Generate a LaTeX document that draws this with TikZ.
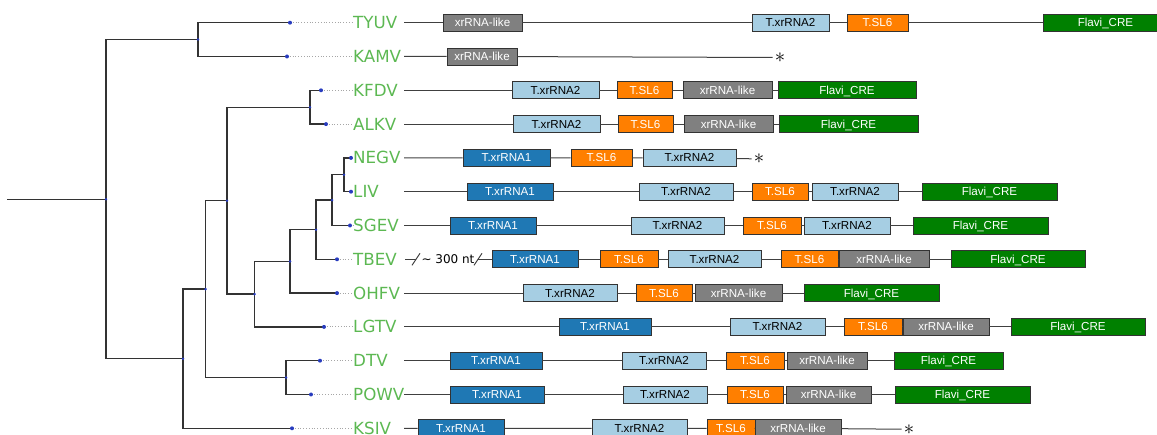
\documentclass[tikz,border=0pt]{standalone}
\usepackage{fontspec}
\setmainfont{Liberation Sans}
\newfontfamily\taxfont{DejaVu Sans}
\definecolor{taxGreen}{RGB}{92,184,82}
\definecolor{xraBlue}{RGB}{31,120,180}
\definecolor{xrbBlue}{RGB}{166,206,227}
\definecolor{slOrange}{RGB}{255,127,0}
\definecolor{likeGray}{RGB}{128,128,128}
\definecolor{creGreen}{RGB}{0,128,0}
\definecolor{dotBlue}{RGB}{40,60,190}
\begin{document}
\begin{tikzpicture}[x=1pt,y=-1pt]
\tikzstyle{every node}=[inner sep=0pt]
\tikzstyle{branch}=[line width=1.3pt, color=black!80]
\tikzstyle{leader}=[line width=0.8pt, gray!70, dotted]
\tikzstyle{track}=[line width=1pt, color=black!75]
\tikzstyle{taxon}=[anchor=west, text=taxGreen, font=\taxfont\fontsize{16.7}{18}\selectfont]
\tikzstyle{gene}=[draw=black!80, line width=0.8pt, minimum height=17pt, text height=8.2pt, text depth=0pt, font=\fontsize{11.6}{13}\selectfont]
\tikzstyle{xra}=[gene, fill=xraBlue, text=white, node contents={T.xrRNA1}]
\tikzstyle{xrb}=[gene, fill=xrbBlue, text=black, node contents={T.xrRNA2}]
\tikzstyle{sl}=[gene, fill=slOrange, text=white, node contents={T.SL6}]
\tikzstyle{like}=[gene, fill=likeGray, text=white, node contents={xrRNA-like}]
\tikzstyle{cre}=[gene, fill=creGreen, text=white, node contents={Flavi\_CRE}]
\tikzstyle{endmark}=[inner xsep=2pt, text=black, font=\huge]
\useasboundingbox (0,0) rectangle (1157,435);
% tips of the tree
\coordinate (t-tyuv) at (290,22.7);
\coordinate (t-kamv) at (287,56.5);
\coordinate (t-kfdv) at (321,90.3);
\coordinate (t-alkv) at (326,124.1);
\coordinate (t-negv) at (351,157.9);
\coordinate (t-liv)  at (351,191.7);
\coordinate (t-sgev) at (350,225.5);
\coordinate (t-tbev) at (337,259.3);
\coordinate (t-ohfv) at (337,293.1);
\coordinate (t-lgtv) at (324,326.9);
\coordinate (t-dtv)  at (320,360.7);
\coordinate (t-powv) at (311,394.5);
\coordinate (t-ksiv) at (292,428.3);
% inner nodes
\coordinate (stem) at (7,199.2);
\coordinate (root) at (106,199.2);
\coordinate (n-tk) at (198,39.6);
\coordinate (n-ks) at (183,358.7);
\coordinate (n-md) at (205.5,289.15);
\coordinate (n-dp) at (286,377.6);
\coordinate (n-ti) at (227,200.7);
\coordinate (n-ka) at (310,107.2);
\coordinate (n-lg) at (254.5,294.15);
\coordinate (n-oh) at (290,261.4);
\coordinate (n-tb) at (316,229.7);
\coordinate (n-sg) at (332,200.15);
\coordinate (n-nl) at (344,174.8);
\draw [branch] (stem) -- (root);
\foreach \p/\c in {root/n-tk, root/n-ks, n-tk/t-tyuv, n-tk/t-kamv, n-ks/n-md, n-ks/t-ksiv,
  n-md/n-ti, n-md/n-dp, n-dp/t-dtv, n-dp/t-powv, n-ti/n-ka, n-ti/n-lg, n-ka/t-kfdv, n-ka/t-alkv,
  n-lg/n-oh, n-lg/t-lgtv, n-oh/n-tb, n-oh/t-ohfv, n-tb/n-sg, n-tb/t-tbev, n-sg/n-nl, n-sg/t-sgev,
  n-nl/t-negv, n-nl/t-liv}
  \draw [branch] (\p) |- (\c);
\foreach \c in {root, n-tk, n-ks, n-md, n-dp, n-ti, n-ka, n-lg, n-oh, n-tb, n-sg, n-nl}
  \fill [dotBlue] (\c) circle (1.4);
% virus names
\foreach \v/\t/\y in {tyuv/TYUV/22.7, kamv/KAMV/56.5, kfdv/KFDV/90.3, alkv/ALKV/124.1,
  negv/NEGV/157.9, liv/LIV/191.7, sgev/SGEV/225.5, tbev/TBEV/259.3, ohfv/OHFV/293.1,
  lgtv/LGTV/326.9, dtv/DTV/360.7, powv/POWV/394.5, ksiv/KSIV/428.3}
{
  \node [taxon] (l-\v) at (353,\y) {\t};
  \draw [leader] (t-\v) -- (l-\v);
  \fill [dotBlue] (t-\v) circle (2);
}
% TYUV
\coordinate (s-tyuv) at (404,22.7);
\foreach \n/\a/\b/\k in {1/443/522/like, 2/752/829/xrb, 3/847/908/sl, 4/1043/1168/cre}
  \node (tyuv\n) at ({(\a+\b)/2},22.7) [\k, minimum width={(\b-\a)*1pt}];
\draw [track] (s-tyuv) -- (tyuv1) -- (tyuv2) -- (tyuv3) -- (tyuv4);
% KAMV
\coordinate (s-kamv) at (404,56.5);
\node (kamv1) at (482,56.5) [like, minimum width=70pt];
\node [endmark] (a-kamv) at (780,57.5) {$\ast$};
\draw [track] (s-kamv) -- (kamv1) -- (a-kamv);
% KFDV
\coordinate (s-kfdv) at (404,90.3);
\foreach \n/\a/\b/\k in {1/512/599/xrb, 2/617/672/sl, 3/683/772/like, 4/778/916/cre}
  \node (kfdv\n) at ({(\a+\b)/2},90.3) [\k, minimum width={(\b-\a)*1pt}];
\draw [track] (s-kfdv) -- (kfdv1) -- (kfdv2) -- (kfdv3) -- (kfdv4);
% ALKV
\coordinate (s-alkv) at (404,124.1);
\foreach \n/\a/\b/\k in {1/513/600/xrb, 2/618/673/sl, 3/684/773/like, 4/779/918/cre}
  \node (alkv\n) at ({(\a+\b)/2},124.1) [\k, minimum width={(\b-\a)*1pt}];
\draw [track] (s-alkv) -- (alkv1) -- (alkv2) -- (alkv3) -- (alkv4);
% NEGV
\coordinate (s-negv) at (404,157.9);
\foreach \n/\a/\b/\k in {1/463/550/xra, 2/571/632/sl, 3/643/736/xrb}
  \node (negv\n) at ({(\a+\b)/2},157.9) [\k, minimum width={(\b-\a)*1pt}];
\node [endmark] (a-negv) at (759,158.9) {$\ast$};
\draw [track] (s-negv) -- (negv1) -- (negv2) -- (negv3) -- (a-negv);
% LIV
\coordinate (s-liv) at (404,191.7);
\foreach \n/\a/\b/\k in {1/467/553/xra, 2/639/733/xrb, 3/752/808/sl, 4/812/898/xrb, 5/922/1057/cre}
  \node (liv\n) at ({(\a+\b)/2},191.7) [\k, minimum width={(\b-\a)*1pt}];
\draw [track] (s-liv) -- (liv1) -- (liv2) -- (liv3) -- (liv4) -- (liv5);
% SGEV
\coordinate (s-sgev) at (404,225.5);
\foreach \n/\a/\b/\k in {1/450/536/xra, 2/631/724/xrb, 3/743/801/sl, 4/804/890/xrb, 5/913/1048/cre}
  \node (sgev\n) at ({(\a+\b)/2},225.5) [\k, minimum width={(\b-\a)*1pt}];
\draw [track] (s-sgev) -- (sgev1) -- (sgev2) -- (sgev3) -- (sgev4) -- (sgev5);
% TBEV, with the cut of about 300 nt
\coordinate (s-tbev) at (405,259.3);
\coordinate (cut-a) at (416,259.3);
\coordinate (cut-b) at (478,259.3);
\node [font=\taxfont\fontsize{12}{14}\selectfont] (nt) at (448,258.8) {\textasciitilde\ 300 nt};
\foreach \n/\a/\b/\k in {1/492/578/xra, 2/600/658/sl, 3/668/761/xrb, 4/781/838/sl, 5/839/929/like, 6/951/1085/cre}
  \node (tbev\n) at ({(\a+\b)/2},259.3) [\k, minimum width={(\b-\a)*1pt}];
\draw [track] (s-tbev) -- (cut-a);
\draw [track] ([shift={(-4,6)}]cut-a) -- ([shift={(4,-6)}]cut-a);
\draw [track] ([shift={(-4,6)}]cut-b) -- ([shift={(4,-6)}]cut-b);
\draw [track] (cut-b) -- (tbev1) -- (tbev2) -- (tbev3) -- (tbev4) -- (tbev5) -- (tbev6);
% OHFV
\coordinate (s-ohfv) at (404,293.1);
\foreach \n/\a/\b/\k in {1/523/617/xrb, 2/636/692/sl, 3/695/782/like, 4/804/939/cre}
  \node (ohfv\n) at ({(\a+\b)/2},293.1) [\k, minimum width={(\b-\a)*1pt}];
\draw [track] (s-ohfv) -- (ohfv1) -- (ohfv2) -- (ohfv3) -- (ohfv4);
% LGTV
\coordinate (s-lgtv) at (404,326.9);
\foreach \n/\a/\b/\k in {1/559/651/xra, 2/730/825/xrb, 3/844/902/sl, 4/903/989/like, 5/1011/1145/cre}
  \node (lgtv\n) at ({(\a+\b)/2},326.9) [\k, minimum width={(\b-\a)*1pt}];
\draw [track] (s-lgtv) -- (lgtv1) -- (lgtv2) -- (lgtv3) -- (lgtv4) -- (lgtv5);
% DTV
\coordinate (s-dtv) at (404,360.7);
\foreach \n/\a/\b/\k in {1/450/542/xra, 2/622/706/xrb, 3/726/784/sl, 4/787/867/like, 5/894/1003/cre}
  \node (dtv\n) at ({(\a+\b)/2},360.7) [\k, minimum width={(\b-\a)*1pt}];
\draw [track] (s-dtv) -- (dtv1) -- (dtv2) -- (dtv3) -- (dtv4) -- (dtv5);
% POWV
\coordinate (s-powv) at (404,394.5);
\foreach \n/\a/\b/\k in {1/450/544/xra, 2/623/707/xrb, 3/727/783/sl, 4/786/871/like, 5/895/1030/cre}
  \node (powv\n) at ({(\a+\b)/2},394.5) [\k, minimum width={(\b-\a)*1pt}];
\draw [track] (s-powv) -- (powv1) -- (powv2) -- (powv3) -- (powv4) -- (powv5);
% KSIV
\coordinate (s-ksiv) at (404,428.3);
\foreach \n/\a/\b/\k in {1/418/504/xra, 2/592/687/xrb, 3/707/755/sl, 4/755/841/like}
  \node (ksiv\n) at ({(\a+\b)/2},428.3) [\k, minimum width={(\b-\a)*1pt}];
\node [endmark] (a-ksiv) at (909,429.3) {$\ast$};
\draw [track] (s-ksiv) -- (ksiv1) -- (ksiv2) -- (ksiv3) -- (ksiv4) -- (a-ksiv);
\end{tikzpicture}
\end{document}
